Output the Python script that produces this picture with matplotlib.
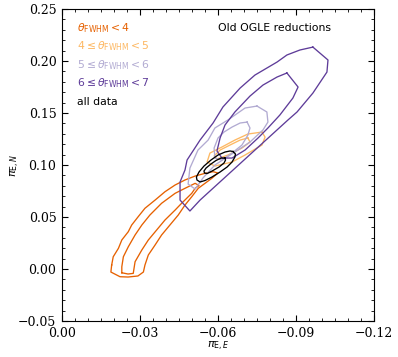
import matplotlib.pyplot as plt
from matplotlib.ticker import MultipleLocator

# contour outlines (pi_E,E, pi_E,N)
# theta_FWHM < 4
lt4_outer_x = [-0.0191, -0.0197, -0.0217, -0.0230, -0.0255, -0.0268, -0.0293, -0.0319, -0.0358, -0.0396,
               -0.0435, -0.0473, -0.0512, -0.0550, -0.0581, -0.0600, -0.0576, -0.0550, -0.0524, -0.0499,
               -0.0473, -0.0447, -0.0415, -0.0383, -0.0358, -0.0332, -0.0319, -0.0313, -0.0292, -0.0254,
               -0.0223, -0.0188, -0.0191]
lt4_outer_y = [0.0038, 0.0118, 0.0199, 0.0279, 0.0359, 0.0423, 0.0503, 0.0584, 0.0663, 0.0743,
               0.0808, 0.0856, 0.0894, 0.0920, 0.0936, 0.0923, 0.0872, 0.0824, 0.0776, 0.0695,
               0.0615, 0.0519, 0.0423, 0.0327, 0.0231, 0.0135, 0.0038, -0.0029, -0.0067, -0.0077,
               -0.0074, -0.0029, 0.0038]
lt4_inner_x = [-0.0230, -0.0230, -0.0236, -0.0255, -0.0281, -0.0307, -0.0338, -0.0383, -0.0435, -0.0473,
               -0.0512, -0.0527, -0.0512, -0.0499, -0.0460, -0.0435, -0.0396, -0.0364, -0.0332, -0.0307,
               -0.0281, -0.0274, -0.0254, -0.0230]
lt4_inner_y = [-0.0036, 0.0022, 0.0118, 0.0214, 0.0327, 0.0423, 0.0519, 0.0632, 0.0728, 0.0776,
               0.0824, 0.0803, 0.0776, 0.0728, 0.0632, 0.0567, 0.0471, 0.0375, 0.0279, 0.0183,
               0.0070, -0.0042, -0.0048, -0.0036]

# 4 <= theta_FWHM < 5
t45_outer_x = [-0.0769, -0.0781, -0.0769, -0.0704, -0.0654, -0.0588, -0.0558, -0.0569, -0.0615, -0.0665, -0.0715, -0.0769]
t45_outer_y = [0.1317, 0.1269, 0.1192, 0.1096, 0.1029, 0.0990, 0.1029, 0.1115, 0.1173, 0.1240, 0.1298, 0.1317]
t45_inner_x = [-0.0715, -0.0723, -0.0692, -0.0638, -0.0596, -0.0585, -0.0608, -0.0646, -0.0685, -0.0715]
t45_inner_y = [0.1260, 0.1221, 0.1163, 0.1096, 0.1058, 0.1087, 0.1144, 0.1192, 0.1240, 0.1260]

# 5 <= theta_FWHM < 6
t56_outer_x = [-0.0750, -0.0788, -0.0792, -0.0773, -0.0723, -0.0665, -0.0588, -0.0542, -0.0512, -0.0485,
               -0.0492, -0.0523, -0.0562, -0.0588, -0.0638, -0.0704, -0.0750]
t56_outer_y = [0.1567, 0.1510, 0.1413, 0.1337, 0.1221, 0.1125, 0.1000, 0.0875, 0.0769, 0.0817,
               0.0971, 0.1144, 0.1240, 0.1356, 0.1433, 0.1548, 0.1567]
t56_inner_x = [-0.0712, -0.0723, -0.0715, -0.0692, -0.0654, -0.0615, -0.0588, -0.0585, -0.0600, -0.0623, -0.0654, -0.0685, -0.0712]
t56_inner_y = [0.1413, 0.1356, 0.1288, 0.1192, 0.1115, 0.1048, 0.1067, 0.1163, 0.1260, 0.1317, 0.1365, 0.1404, 0.1413]

# 6 <= theta_FWHM < 7
t67_outer_x = [-0.0965, -0.1023, -0.1019, -0.0965, -0.0904, -0.0869, -0.0531, -0.0492, -0.0454, -0.0454,
               -0.0473, -0.0481, -0.0531, -0.0581, -0.0619, -0.0685, -0.0742, -0.0827, -0.0865, -0.0915, -0.0965]
t67_outer_y = [0.2134, 0.2010, 0.1894, 0.1692, 0.1510, 0.1433, 0.0663, 0.0558, 0.0663, 0.0837,
               0.0952, 0.1048, 0.1240, 0.1404, 0.1558, 0.1740, 0.1865, 0.1990, 0.2058, 0.2106, 0.2134]
t67_inner_x = [-0.0865, -0.0908, -0.0888, -0.0838, -0.0792, -0.0754, -0.0704, -0.0654, -0.0615, -0.0596,
               -0.0608, -0.0627, -0.0665, -0.0723, -0.0773, -0.0827, -0.0865]
t67_inner_y = [0.1885, 0.1750, 0.1644, 0.1481, 0.1356, 0.1260, 0.1144, 0.1067, 0.1067, 0.1135,
               0.1260, 0.1385, 0.1510, 0.1663, 0.1769, 0.1846, 0.1885]

# all data
all_outer_x = [-0.0658, -0.0667, -0.0665, -0.0654, -0.0635, -0.0608, -0.0577, -0.0550, -0.0531, -0.0519,
               -0.0517, -0.0527, -0.0546, -0.0573, -0.0600, -0.0627, -0.0646, -0.0658]
all_outer_y = [0.1130, 0.1106, 0.1077, 0.1029, 0.0981, 0.0933, 0.0885, 0.0851, 0.0837, 0.0856,
               0.0885, 0.0933, 0.0990, 0.1048, 0.1096, 0.1125, 0.1135, 0.1130]
all_inner_x = [-0.0627, -0.0629, -0.0623, -0.0604, -0.0577, -0.0558, -0.0548, -0.0546, -0.0554, -0.0573,
               -0.0592, -0.0612, -0.0627]
all_inner_y = [0.1067, 0.1048, 0.1019, 0.0981, 0.0942, 0.0918, 0.0923, 0.0942, 0.0971, 0.1010,
               0.1043, 0.1067, 0.1067]

labels = [r'$\theta_{\rm FWHM} < 4$', r'$4 \leq \theta_{\rm FWHM} < 5$',
          r'$5 \leq \theta_{\rm FWHM} < 6$', r'$6 \leq \theta_{\rm FWHM} < 7$', 'all data']
colors = ['#e66101', '#fdb863', '#b2abd2', '#5e3c99', 'black']

fig = plt.figure(figsize=(3.98, 3.57), dpi=100)
ax = fig.add_axes([0.1558, 0.1008, 0.7839, 0.8739])

groups = [
    [(lt4_outer_x, lt4_outer_y), (lt4_inner_x, lt4_inner_y)],
    [(t45_outer_x, t45_outer_y), (t45_inner_x, t45_inner_y)],
    [(t56_outer_x, t56_outer_y), (t56_inner_x, t56_inner_y)],
    [(t67_outer_x, t67_outer_y), (t67_inner_x, t67_inner_y)],
    [(all_outer_x, all_outer_y), (all_inner_x, all_inner_y)],
]
for c, g in zip(colors, groups):
    for xs, ys in g:
        ax.plot(xs, ys, color=c, lw=0.95)

# colored labels in the upper left
for i, (lab, c) in enumerate(zip(labels, colors)):
    ax.text(0.047, 0.94 - i * 0.0595, lab, color=c, fontsize=7.8,
            transform=ax.transAxes, va='center', ha='left')
ax.text(0.50, 0.94, 'Old OGLE reductions', fontsize=7.8, transform=ax.transAxes,
        va='center', ha='left')

ax.set_xlim(0.0, -0.12)
ax.set_ylim(-0.05, 0.25)
ax.xaxis.set_major_locator(MultipleLocator(0.03))
ax.xaxis.set_minor_locator(MultipleLocator(0.005))
ax.yaxis.set_major_locator(MultipleLocator(0.05))
ax.yaxis.set_minor_locator(MultipleLocator(0.01))
ax.xaxis.set_major_formatter(plt.FuncFormatter(lambda v, p: ('%.2f' % v).replace('-', '\u2212')))
ax.yaxis.set_major_formatter(plt.FuncFormatter(lambda v, p: ('%.2f' % v).replace('-', '\u2212')))
ax.tick_params(which='both', direction='in', top=True, right=True)
ax.tick_params(which='major', length=4, width=0.8, pad=4)
ax.tick_params(which='minor', length=2, width=0.6)
for lab in ax.get_xticklabels() + ax.get_yticklabels():
    lab.set_family('DejaVu Serif')
    lab.set_fontsize(9)

ax.set_xlabel(r'$\pi_{\rm E,\it E}$', fontsize=8, labelpad=0)
ax.set_ylabel(r'$\pi_{\rm E,\it N}$', fontsize=8, labelpad=-3)

fig.savefig('out.png', dpi=100)
